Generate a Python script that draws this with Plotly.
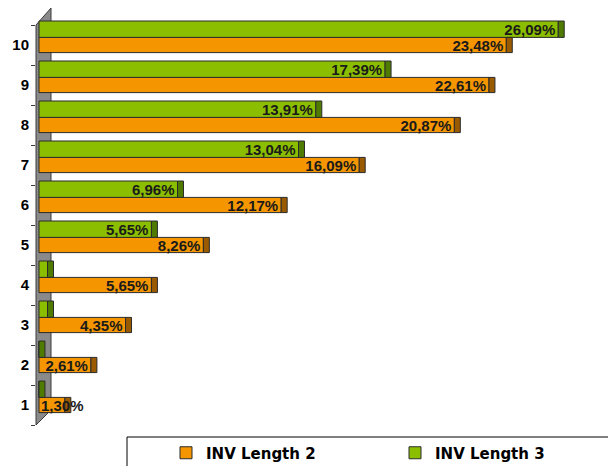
import plotly.graph_objects as go

categories = ["1", "2", "3", "4", "5", "6", "7", "8", "9", "10"]
inv_len2 = [1.30, 2.61, 4.35, 5.65, 8.26, 12.17, 16.09, 20.87, 22.61, 23.48]
inv_len3 = [0.0, 0.0, 0.43, 0.43, 5.65, 6.96, 13.04, 13.91, 17.39, 26.09]
series_names = ["INV Length 2", "INV Length 3"]
label_min = 1.0    # values below this carry no label
inside_min = 2.0   # labels of shorter bars start at the axis and overflow

def fmt(v):
    return f"{v:.2f}%".replace(".", ",")

W, H = 608, 466
ML, MR, MT, MB = 36, 0, 9, 41
PW, PH = W - ML - MR, H - MT - MB

def px(x):
    return (x - ML) / PW

def py(y):
    return (H - MB - y) / PH

ORANGE, ORANGE_CAP = "#F59600", "#9A5A00"
GREEN, GREEN_CAP = "#8CBE00", "#4F7C00"
OUTLINE = "#2b2b2b"
LABEL_FONT = dict(family="Liberation Sans Narrow, Liberation Sans", size=15,
                  color="#1a1a1a", weight="bold")
cap_w = 0.3

fig = go.Figure()
specs = [
    (inv_len2, series_names[0], ORANGE, ORANGE_CAP, -0.19, 0.38),
    (inv_len3, series_names[1], GREEN, GREEN_CAP, 0.19, 0.41),
]
for vals, name, col, capcol, off, wid in specs:
    fig.add_trace(go.Bar(
        y=categories, x=vals, orientation="h", name=name,
        offset=off, width=wid,
        marker=dict(color=col, line=dict(color=OUTLINE, width=1)),
        text=[fmt(v) if v >= inside_min else "" for v in vals],
        textposition="inside", insidetextanchor="end", constraintext="none",
        textfont=LABEL_FONT, hoverinfo="skip",
    ))
for vals, name, col, capcol, off, wid in specs:
    fig.add_trace(go.Bar(
        y=categories, x=[cap_w] * len(vals), base=vals, orientation="h",
        offset=off, width=wid, showlegend=False,
        marker=dict(color=capcol, line=dict(color=OUTLINE, width=1)),
        hoverinfo="skip",
    ))

# labels of bars too short to hold them: start at the axis, overflow right
for vals, name, col, capcol, off, wid in specs:
    for idx, v in enumerate(vals):
        if label_min <= v < inside_min:
            fig.add_annotation(x=0, y=idx + off + wid / 2, text=fmt(v),
                               showarrow=False, xanchor="left",
                               yanchor="middle", font=LABEL_FONT)

# gray 3D back wall
wall = (f"M {px(36)},{py(25)} L {px(51)},{py(8)} L {px(51)},{py(410)} "
        f"L {px(36)},{py(425)} Z")
fig.add_shape(type="path", path=wall, xref="paper", yref="paper",
              fillcolor="#8a8a8a", line=dict(color="#3a3a3a", width=1),
              layer="below")
# legend frame
fig.add_shape(type="rect", xref="paper", yref="paper",
              x0=px(127), x1=px(640), y0=py(437), y1=py(480),
              line=dict(color="#000000", width=1), fillcolor="rgba(0,0,0,0)")

fig.update_layout(
    width=W, height=H,
    margin=dict(l=ML, r=MR, t=MT, b=MB, autoexpand=False),
    paper_bgcolor="white", plot_bgcolor="rgba(0,0,0,0)",
    barmode="overlay",
    showlegend=True,
    legend=dict(orientation="h", x=px(166), y=py(453), xanchor="left",
                yanchor="middle", entrywidth=184, entrywidthmode="pixels",
                font=dict(family="DejaVu Sans", size=15, color="#000000",
                          weight="bold"),
                bgcolor="rgba(0,0,0,0)"),
    xaxis=dict(range=[-0.15, 28.59], visible=False),
    yaxis=dict(type="category", range=[-0.5, 9.9], showgrid=False,
               showline=False, ticks="outside", tickson="boundaries",
               ticklen=4, tickcolor="#3a3a3a", ticklabelstandoff=6,
               tickfont=dict(family="Liberation Sans", size=15, color="#000000",
                             weight="bold")),
)

fig.write_html("out.html")
